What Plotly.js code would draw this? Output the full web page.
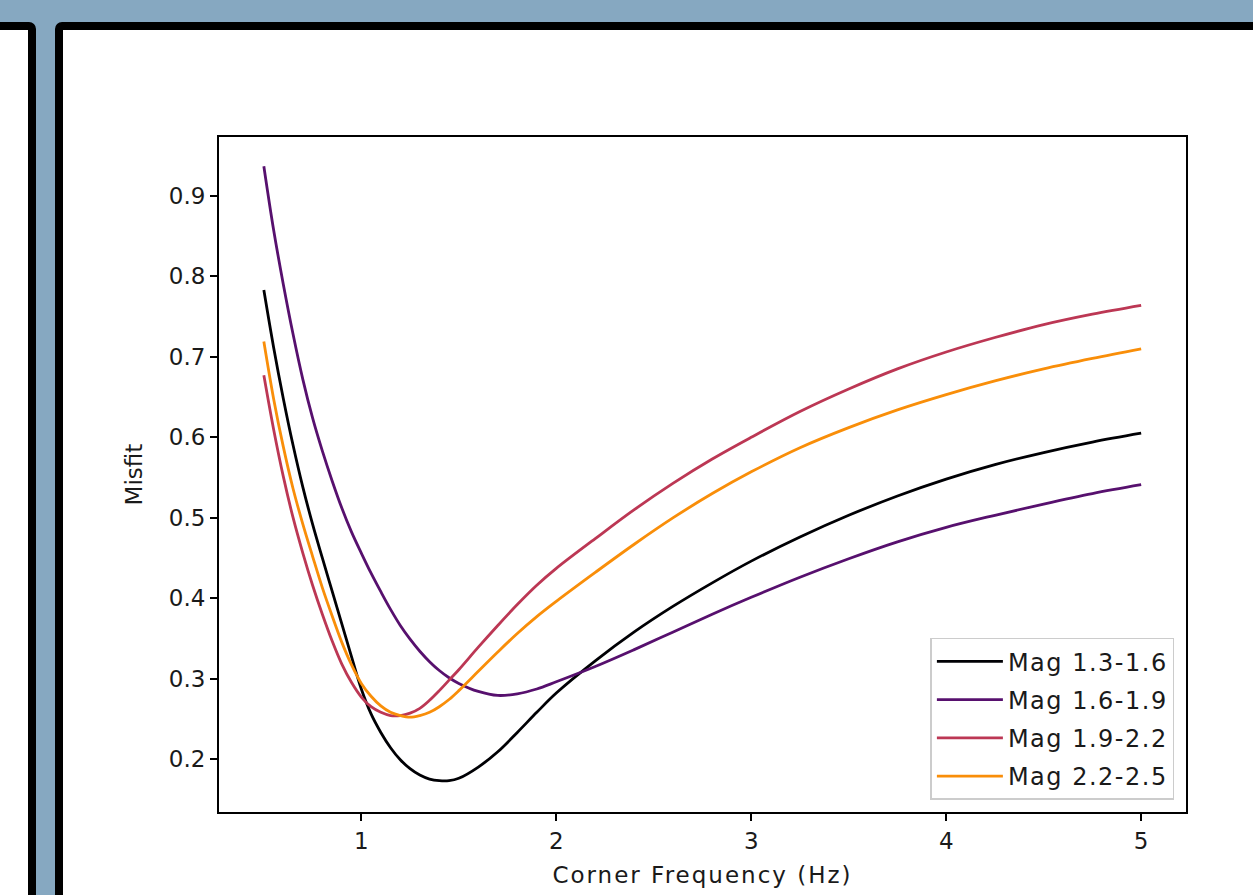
<!DOCTYPE html>
<html>
<head>
<meta charset="utf-8">
<script src="https://cdn.plot.ly/plotly-3.0.1.min.js"></script>
<style>
  html, body { margin: 0; padding: 0; width: 1253px; height: 895px; overflow: hidden; background: #86a8c1; }
  .panel { position: absolute; box-sizing: border-box; background: #ffffff; border: 8px solid #000000; border-radius: 7px; }
  #chart { position: absolute; left: 0; top: 0; width: 1253px; height: 895px; }
  .legendtext { letter-spacing: 1.5px; }
  .xtitle { letter-spacing: 2px; }
</style>
</head>
<body>
<div class="panel" style="left:-20px; top:22px; width:56px; height:920px;"></div>
<div class="panel" style="left:55px; top:22px; width:1260px; height:920px;"></div>
<div id="chart"></div>
<script>
// Corner frequency (Hz)
const cornerFreq = [0.5,0.55,0.6,0.65,0.7,0.75,0.8,0.85,0.9,0.95,1.0,1.05,1.1,1.15,1.2,1.25,1.3,1.35,1.4,1.45,1.5,1.6,1.7,1.8,1.9,2.0,2.2,2.4,2.6,2.8,3.0,3.25,3.5,3.75,4.0,4.25,4.5,4.75,5.0];

// Misfit per magnitude bin
const misfitMag13_16 = [0.783,0.712,0.648,0.590,0.538,0.492,0.450,0.409,0.368,0.327,0.287,0.256,0.233,0.214,0.199,0.188,0.180,0.175,0.173,0.173,0.176,0.190,0.209,0.233,0.258,0.282,0.322,0.358,0.390,0.419,0.446,0.476,0.503,0.527,0.548,0.566,0.581,0.594,0.605];
const misfitMag16_19 = [0.937,0.858,0.790,0.728,0.672,0.624,0.583,0.546,0.512,0.482,0.456,0.431,0.408,0.386,0.366,0.349,0.334,0.321,0.310,0.301,0.294,0.284,0.279,0.281,0.287,0.296,0.315,0.336,0.358,0.380,0.401,0.426,0.449,0.470,0.488,0.503,0.517,0.530,0.541];
const misfitMag19_22 = [0.677,0.610,0.551,0.500,0.456,0.416,0.380,0.347,0.318,0.295,0.277,0.265,0.258,0.254,0.254,0.257,0.263,0.273,0.285,0.298,0.311,0.339,0.366,0.392,0.416,0.437,0.474,0.510,0.543,0.573,0.600,0.632,0.660,0.685,0.706,0.724,0.740,0.753,0.764];
const misfitMag22_25 = [0.719,0.648,0.588,0.536,0.492,0.452,0.413,0.378,0.345,0.317,0.294,0.278,0.266,0.258,0.254,0.252,0.254,0.258,0.265,0.274,0.285,0.309,0.333,0.356,0.377,0.396,0.432,0.467,0.500,0.530,0.557,0.587,0.612,0.634,0.653,0.670,0.685,0.698,0.710];

const seriesNames = ["Mag 1.3-1.6","Mag 1.6-1.9","Mag 1.9-2.2","Mag 2.2-2.5"];
const seriesValues = [misfitMag13_16, misfitMag16_19, misfitMag19_22, misfitMag22_25];
const seriesColors = ["#000004","#57106e","#bc3754","#f98e09"];

const xTicks = [1,2,3,4,5];
const yTicks = [0.2,0.3,0.4,0.5,0.6,0.7,0.8,0.9];

const traces = seriesNames.map((name, i) => ({
  x: cornerFreq,
  y: seriesValues[i],
  name: name,
  type: "scatter",
  mode: "lines",
  legendgroup: "g" + i,
  line: { color: seriesColors[i], width: 2.8, shape: "spline", smoothing: 1 }
}));

const font = { family: "DejaVu Sans, sans-serif", size: 23, color: "#1a1a1a" };
const legendFont = { family: "DejaVu Sans, sans-serif", size: 24, color: "#1a1a1a" };

const layout = {
  width: 1253, height: 895,
  margin: { l: 219, r: 67, t: 137, b: 83 },
  paper_bgcolor: "rgba(0,0,0,0)",
  plot_bgcolor: "#ffffff",
  font: font,
  showlegend: true,
  xaxis: {
    range: [0.27, 5.23],
    tickvals: xTicks,
    ticktext: xTicks.map(String),
    ticks: "outside", ticklen: 7, tickwidth: 2, tickcolor: "#000",
    showline: true, linewidth: 2, linecolor: "#000", mirror: true,
    showgrid: false, zeroline: false,
    tickfont: font,
    title: { text: "Corner Frequency (Hz)", font: font, standoff: 14 }
  },
  yaxis: {
    range: [0.1341, 0.9733],
    tickvals: yTicks,
    ticktext: yTicks.map(v => v.toFixed(1)),
    ticks: "outside", ticklen: 7, tickwidth: 2, tickcolor: "#000",
    showline: true, linewidth: 2, linecolor: "#000", mirror: true,
    showgrid: false, zeroline: false,
    tickfont: font,
    title: { text: "Misfit", font: font, standoff: 20 }
  },
  legend: {
    x: 0.988, y: 0.018, xanchor: "right", yanchor: "bottom",
    bgcolor: "rgba(255,255,255,0.85)",
    bordercolor: "#cccccc", borderwidth: 1.5,
    font: legendFont,
    itemwidth: 66,
    traceorder: "grouped",
    tracegroupgap: 4
  }
};

Plotly.newPlot("chart", traces, layout, { staticPlot: true, displayModeBar: false });
</script>
</body>
</html>
